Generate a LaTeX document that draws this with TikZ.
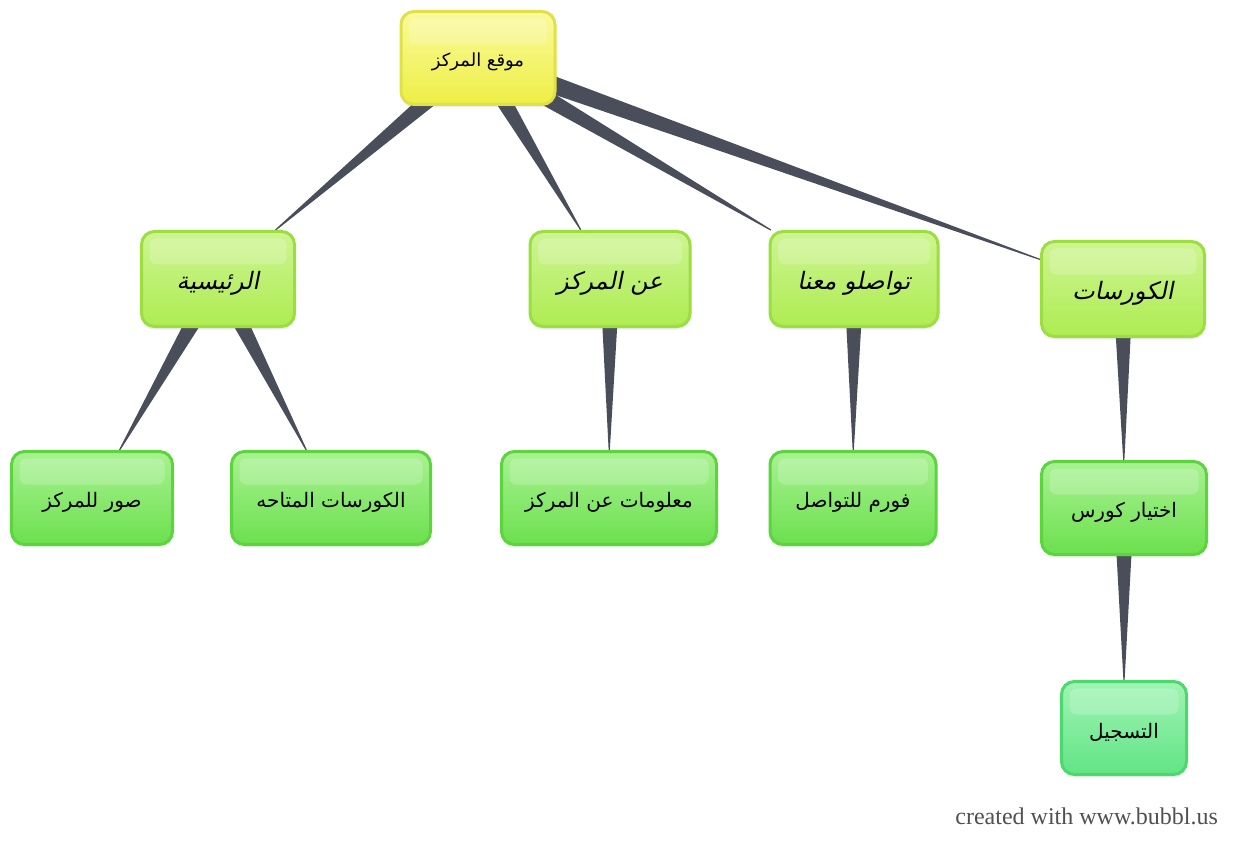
\documentclass[tikz,border=0pt]{standalone}
\usepackage{fontspec}
\usetikzlibrary{calc,shadows}
\TeXXeTstate=1
\setmainfont{Liberation Serif}
\newfontfamily\arabicfont[Script=Arabic]{DejaVu Sans}
\newfontfamily\arabicit[Script=Arabic,FakeSlant=0.2]{DejaVu Sans}
\definecolor{linkc}{HTML}{4A4E5A}
\definecolor{rootT}{HTML}{FAFA9C}
\definecolor{rootB}{HTML}{EEEE46}
\definecolor{rootD}{HTML}{E0E048}
\definecolor{lvtT}{HTML}{CDF592}
\definecolor{lvtB}{HTML}{AEEC52}
\definecolor{lvtD}{HTML}{9CDE40}
\definecolor{lvhT}{HTML}{A8F292}
\definecolor{lvhB}{HTML}{6CE04E}
\definecolor{lvhD}{HTML}{5CD43E}
\definecolor{regT}{HTML}{A0F4B4}
\definecolor{regB}{HTML}{62E486}
\definecolor{regD}{HTML}{4CD86C}
\definecolor{wmgray}{HTML}{505050}
\pgfdeclarelayer{background}
\pgfsetlayers{background,main}
\newcommand\wedgelink[2]{%
  \path (#1.center) -- (#2) coordinate[pos=1] (#1-#2-e);
  \fill[linkc] ($(#1.center)!10pt!90:(#1-#2-e)$) -- ($(#1-#2-e)!0.6pt!-90:(#1.center)$)
    -- ($(#1-#2-e)!0.6pt!90:(#1.center)$) -- ($(#1.center)!10pt!-90:(#1-#2-e)$) -- cycle;}
\newcommand\artext[1]{\raisebox{-4pt}[\height][\depth]{\beginR #1\endR}}
\tikzset{
  box/.style={rectangle, rounded corners=13pt, line width=3pt, inner sep=3pt, align=center,
    drop shadow={opacity=0.12, shadow xshift=0pt, shadow yshift=-3pt},
    path picture={\fill[white,opacity=0.2,rounded corners=7pt]
      ($(path picture bounding box.north west)+(8,7)$) rectangle
      ($(path picture bounding box.north east)+(-8,33)$);}},
  rootbox/.style={box, draw=rootD, top color=rootT, bottom color=rootB,
    font=\fontsize{18}{21}\selectfont\arabicfont},
  topicbox/.style={box, draw=lvtD, top color=lvtT, bottom color=lvtB,
    font=\fontsize{24}{27}\selectfont\arabicit},
  leafbox/.style={box, draw=lvhD, top color=lvhT, bottom color=lvhB,
    font=\fontsize{20}{23}\selectfont\arabicfont},
  regbox/.style={box, draw=regD, top color=regT, bottom color=regB,
    font=\fontsize{20}{23}\selectfont\arabicfont},
}
\begin{document}
\begin{tikzpicture}[x=1pt,y=-1pt]
\useasboundingbox (0,0) rectangle (1236,850);
\node[rootbox, minimum width=154pt, minimum height=93pt] (r) at (478,58) {\artext{موقع المركز}};
\node[topicbox, minimum width=153pt, minimum height=95pt] (a) at (218,279) {\artext{الرئيسية}};
\node[topicbox, minimum width=160pt, minimum height=95pt] (b) at (610,279) {\artext{عن المركز}};
\node[topicbox, minimum width=168pt, minimum height=95pt] (c) at (854,279) {\artext{تواصلو معنا}};
\node[topicbox, minimum width=163pt, minimum height=95pt] (d) at (1123,289) {\artext{الكورسات}};
\node[leafbox, minimum width=161pt, minimum height=93pt] (a1) at (92,498) {\artext{صور للمركز}};
\node[leafbox, minimum width=199pt, minimum height=93pt] (a2) at (331,498) {\artext{الكورسات المتاحه}};
\node[leafbox, minimum width=215pt, minimum height=93pt] (b1) at (609,498) {\artext{معلومات عن المركز}};
\node[leafbox, minimum width=166pt, minimum height=93pt] (c1) at (853,498) {\artext{فورم للتواصل}};
\node[leafbox, minimum width=165pt, minimum height=93pt] (d1) at (1124,508) {\artext{اختيار كورس}};
\node[regbox, minimum width=125pt, minimum height=93pt] (d2) at (1124,728) {\artext{التسجيل}};
\node[anchor=east, text=wmgray, font=\fontsize{24}{28}\selectfont, inner sep=0pt] (wm) at (1218,816) {created with www.bubbl.us};
\begin{pgfonlayer}{background}
\fill[white] (0,0) rectangle (1236,850);
\wedgelink{r}{a}
\wedgelink{r}{b}
\wedgelink{r}{c}
\wedgelink{r}{d}
\wedgelink{a}{a1}
\wedgelink{a}{a2}
\wedgelink{b}{b1}
\wedgelink{c}{c1}
\wedgelink{d}{d1}
\wedgelink{d1}{d2}
\end{pgfonlayer}
\end{tikzpicture}
\end{document}
